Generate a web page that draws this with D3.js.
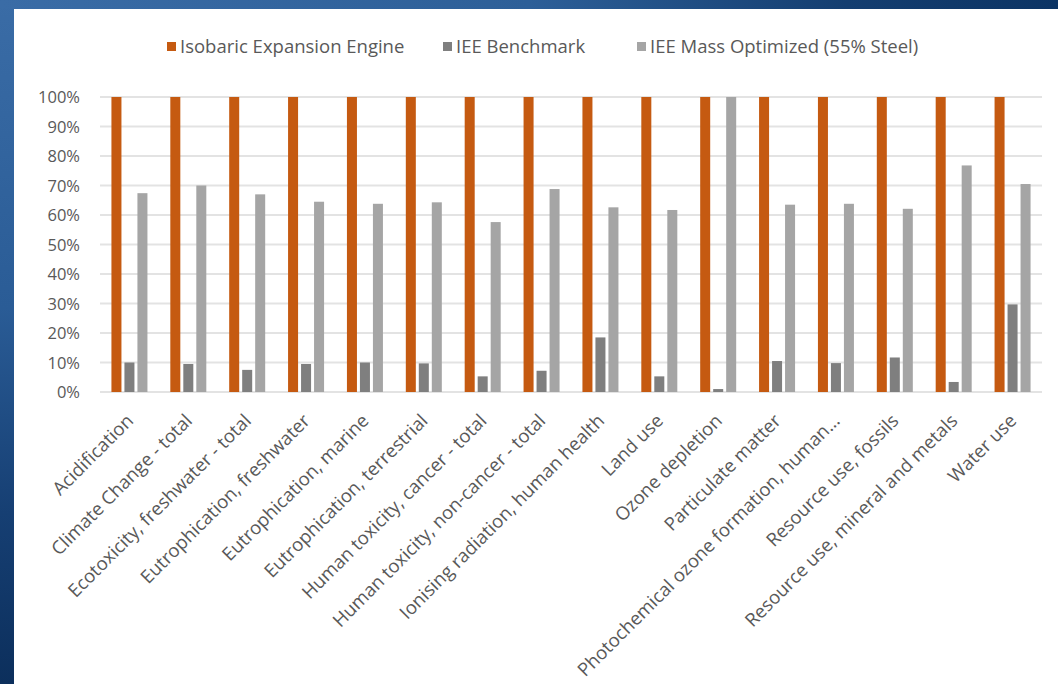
<!DOCTYPE html>
<html>
<head>
<meta charset="utf-8">
<script src="https://cdn.jsdelivr.net/npm/d3@7"></script>
<style>
  html, body { margin: 0; padding: 0; background: #fff; }
  svg { display: block; }
  text { font-family: "Open Sans", "Liberation Sans", sans-serif; fill: #595959; }
</style>
</head>
<body>
<svg id="chart" width="1058" height="684"></svg>
<script>
const categories = [
  "Acidification",
  "Climate Change - total",
  "Ecotoxicity, freshwater - total",
  "Eutrophication, freshwater",
  "Eutrophication, marine",
  "Eutrophication, terrestrial",
  "Human toxicity, cancer - total",
  "Human toxicity, non-cancer - total",
  "Ionising radiation, human health",
  "Land use",
  "Ozone depletion",
  "Particulate matter",
  "Photochemical ozone formation, human...",
  "Resource use, fossils",
  "Resource use, mineral and metals",
  "Water use"
];
const seriesNames = ["Isobaric Expansion Engine", "IEE Benchmark", "IEE Mass Optimized (55% Steel)"];
const isobaricValues = [1, 1, 1, 1, 1, 1, 1, 1, 1, 1, 1, 1, 1, 1, 1, 1];
const benchmarkValues = [0.10, 0.095, 0.075, 0.095, 0.10, 0.097, 0.053, 0.072, 0.185, 0.053, 0.01, 0.105, 0.098, 0.117, 0.034, 0.297];
const massOptValues = [0.674, 0.70, 0.67, 0.645, 0.638, 0.643, 0.576, 0.688, 0.626, 0.617, 1.0, 0.635, 0.638, 0.621, 0.768, 0.705];
const yTicks = [0, 0.1, 0.2, 0.3, 0.4, 0.5, 0.6, 0.7, 0.8, 0.9, 1.0];
const seriesColors = ["#C55A11", "#7F7F7F", "#A5A5A5"];

const seriesValues = [isobaricValues, benchmarkValues, massOptValues];

const svg = d3.select("#chart");
const W = 1058, H = 684;

// background
const defs = svg.append("defs");
const grad = defs.append("linearGradient").attr("id", "bg")
  .attr("x1", "0").attr("y1", "0").attr("x2", "1").attr("y2", "1");
grad.append("stop").attr("offset", "0").attr("stop-color", "#3b6ea8");
grad.append("stop").attr("offset", "0.35").attr("stop-color", "#1f4f88");
grad.append("stop").attr("offset", "1").attr("stop-color", "#0b2f5e");
svg.append("rect").attr("width", W).attr("height", H).attr("fill", "url(#bg)");
const gradL = defs.append("linearGradient").attr("id", "bgL")
  .attr("x1", "0").attr("y1", "0").attr("x2", "0").attr("y2", "1");
gradL.append("stop").attr("offset", "0").attr("stop-color", "#3a6ca6");
gradL.append("stop").attr("offset", "0.45").attr("stop-color", "#2a5c96");
gradL.append("stop").attr("offset", "0.75").attr("stop-color", "#163f73");
gradL.append("stop").attr("offset", "1").attr("stop-color", "#0c2f5c");
svg.append("rect").attr("width", 16).attr("height", H).attr("fill", "url(#bgL)");
const gradT = defs.append("linearGradient").attr("id", "bgT")
  .attr("x1", "0").attr("y1", "0").attr("x2", "1").attr("y2", "0");
gradT.append("stop").attr("offset", "0").attr("stop-color", "#3a6ca6");
gradT.append("stop").attr("offset", "0.5").attr("stop-color", "#2d5f98");
gradT.append("stop").attr("offset", "0.8").attr("stop-color", "#143e70");
gradT.append("stop").attr("offset", "1").attr("stop-color", "#0c3464");
svg.append("rect").attr("width", W).attr("height", 9).attr("fill", "url(#bgT)");
svg.append("rect").attr("x", 14).attr("y", 9).attr("width", W - 14).attr("height", H - 9).attr("fill", "#ffffff");

const plot = { left: 100, right: 1042, top: 97, bottom: 392 };

const x = d3.scaleBand().domain(categories).range([plot.left, plot.right]).padding(0);
const xs = d3.scaleBand().domain(d3.range(seriesNames.length)).range([0, x.bandwidth()])
  .paddingInner(0.23).paddingOuter(0.88);
const y = d3.scaleLinear().domain([0, 1]).range([plot.bottom, plot.top]);

// gridlines
svg.append("g").selectAll("line").data(yTicks).join("line")
  .attr("x1", plot.left).attr("x2", plot.right)
  .attr("y1", d => y(d)).attr("y2", d => y(d))
  .attr("stroke", "#e3e3e3").attr("stroke-width", 2);

// y axis labels
const yAxis = d3.axisLeft(y).tickValues(yTicks).tickFormat(d3.format(".0%")).tickSize(0).tickPadding(0);
const gy = svg.append("g").attr("transform", `translate(80,0)`).call(yAxis);
gy.select(".domain").remove();
gy.selectAll("text").style("font-size", "16.5px").attr("fill", "#595959")
  .style("font-family", '"Open Sans", sans-serif').attr("dy", "0.35em");

// bars
const groups = svg.append("g").selectAll("g").data(categories).join("g")
  .attr("transform", d => `translate(${x(d)},0)`);
groups.selectAll("rect").data((d, i) => seriesValues.map((vals, s) => ({ s, v: vals[i] })))
  .join("rect")
  .attr("x", d => xs(d.s))
  .attr("width", xs.bandwidth())
  .attr("y", d => y(d.v))
  .attr("height", d => y(0) - y(d.v))
  .attr("fill", d => seriesColors[d.s]);

// x axis labels
const xAxis = d3.axisBottom(x).tickSize(0).tickPadding(0);
const gx = svg.append("g").attr("transform", `translate(0,${plot.bottom})`).call(xAxis);
gx.select(".domain").remove();
gx.selectAll("text")
  .style("font-size", "18.5px").attr("fill", "#595959")
  .style("font-family", '"Open Sans", sans-serif')
  .attr("text-anchor", "end")
  .attr("dy", 0).attr("y", 0)
  .attr("transform", `translate(5,30) rotate(-45)`);

// legend
const legendX = [167, 443, 637];
const lg = svg.append("g").selectAll("g").data(seriesNames).join("g")
  .attr("transform", (d, i) => `translate(${legendX[i]},42)`);
lg.append("rect").attr("width", 9).attr("height", 9).attr("fill", (d, i) => seriesColors[i]);
lg.append("text").attr("x", 13).attr("y", 10.5).text(d => d)
  .style("font-size", "18.5px");
</script>
</body>
</html>
